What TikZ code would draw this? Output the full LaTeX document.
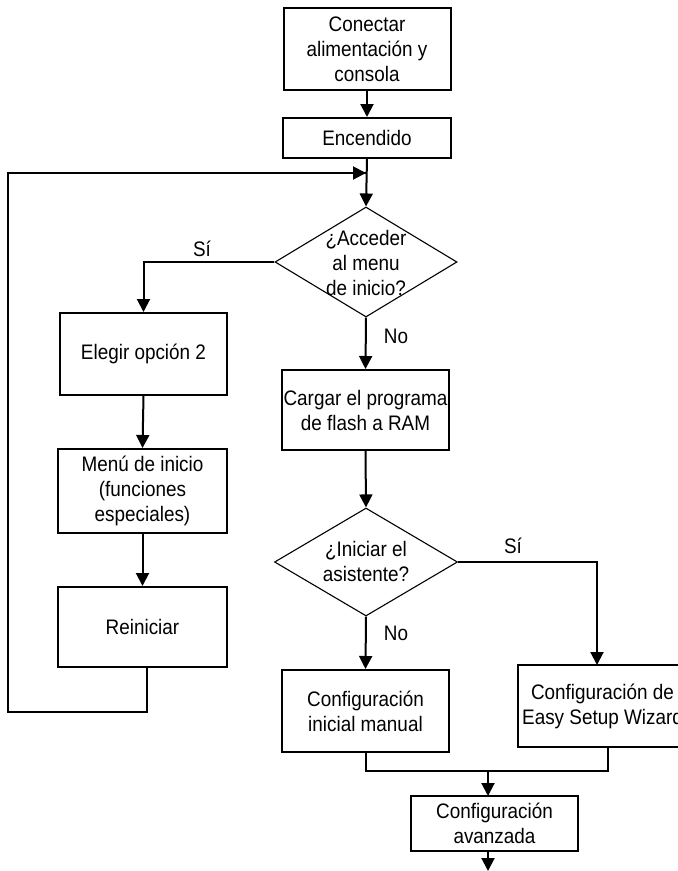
\documentclass[tikz,border=0pt]{standalone}
\usepackage{fontspec}
\setmainfont{Liberation Sans}[FakeStretch=0.9]
\usetikzlibrary{arrows.meta,shapes.geometric,calc}
\tikzset{
  every node/.style={font=\fontsize{21}{25}\selectfont},
  box/.style={draw,line width=2pt,rectangle,inner sep=0pt,align=center},
  dia/.style={draw,line width=1.1pt,diamond,inner sep=0pt,aspect=1.65},
  conn/.style={line width=2pt},
  arr/.style={conn,-{Triangle[width=13pt,length=13pt]}},
  lbl/.style={inner sep=0pt}
}
\begin{document}
\begin{tikzpicture}[x=1pt,y=-1pt]
\useasboundingbox (0,0) rectangle (678,871);
\clip (0,0) rectangle (678,871);
% boxes
\node[box,minimum width=167pt,minimum height=82pt] (b1) at (367,49) {Conectar\\alimentación y\\consola};
\node[box,minimum width=168pt,minimum height=40pt] (b2) at (367,138) {Encendido};
\node[dia,minimum width=182pt,minimum height=110pt] (d1) at (366,262) {};
\node[lbl,align=center] (d1t) at (366,263) {¿Acceder\\al menu\\de inicio?};
\node[box,minimum width=167pt,minimum height=82pt] (eleg) at (143.5,354) {Elegir opción 2};
\node[box,minimum width=169pt,minimum height=84pt] (menu) at (142.5,491) {Menú de inicio\\(funciones\\especiales)};
\node[box,minimum width=169pt,minimum height=80pt] (rein) at (142.5,627) {Reiniciar};
\node[box,minimum width=167pt,minimum height=80pt] (carg) at (365.5,410) {Cargar el programa\\de flash a RAM};
\node[dia,minimum width=183pt,minimum height=108pt] (d2) at (366,562) {};
\node[lbl,align=center] (d2t) at (366,561) {¿Iniciar el\\asistente?};
\node[box,minimum width=167pt,minimum height=82pt] (man) at (365.5,711) {Configuración\\inicial manual};
\node[box,minimum width=169pt,minimum height=82pt] (wiz) at (602.5,706) {Configuración de\\Easy Setup Wizard};
\node[box,minimum width=167pt,minimum height=55pt] (av) at (494.5,823.5) {Configuración\\avanzada};
% labels
\node[lbl] (si1) at (202,249) {Sí};
\node[lbl] (no1) at (396,336) {No};
\node[lbl] (si2) at (513,546) {Sí};
\node[lbl] (no2) at (396,633) {No};
% coordinates
\coordinate (merge) at (366,173);
\coordinate (rb) at (147,667);
\coordinate (loopA) at (147,712);
\coordinate (loopB) at (8,712);
\coordinate (loopC) at (8,173);
\coordinate (wtop) at (597,665);
\coordinate (mb) at (366,752);
\coordinate (jl) at (366,771);
\coordinate (wb) at (608,747);
\coordinate (jr) at (608,771);
\coordinate (jm) at (488,771);
\coordinate (avt) at (488,796);
\coordinate (avb) at (488,851);
\coordinate (endp) at (488,871);
% connectors
\draw[arr] (b1.south) -- (b2.north);
\draw[arr] (b2.south) -- (d1.north);
\draw[conn] (rb) -- (loopA) -- (loopB) -- (loopC) -- (merge);
\draw[arr] (loopC) -- (merge);
\draw[arr] (d1.west) -| (eleg.north);
\draw[arr] (eleg.south) -- (menu.north);
\draw[arr] (menu.south) -- (rein.north);
\draw[arr] (d1.south) -- (carg.north);
\draw[arr] (carg.south) -- (d2.north);
\draw[arr] (d2.east) -| (wtop);
\draw[arr] (d2.south) -- (man.north);
\draw[conn] (mb) -- (jl) -- (jr) -- (wb);
\draw[arr] (jm) -- (avt);
\draw[arr] (avb) -- (endp);
\end{tikzpicture}
\end{document}
